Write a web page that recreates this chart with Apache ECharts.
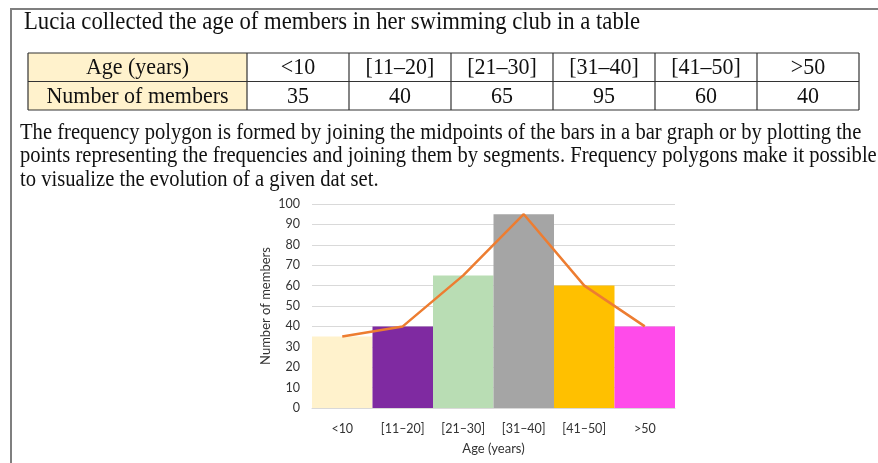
<!DOCTYPE html>
<html>
<head>
<meta charset="utf-8">
<script src="https://cdn.jsdelivr.net/npm/echarts@6/dist/echarts.min.js"></script>
<style>
  html, body { margin: 0; padding: 0; background: #fff; }
  #main { width: 878px; height: 463px; }
</style>
</head>
<body>
<div id="main"></div>
<script>
// 数据
const ageGroups = ['<10', '[11\u201320]', '[21\u201330]', '[31\u201340]', '[41\u201350]', '>50'];
const members = [35, 40, 65, 95, 60, 40];
const barColors = ['#FFF2CC', '#7F2AA1', '#B9DDB4', '#A5A5A5', '#FFC000', '#FF4BEA'];

const titleText = 'Lucia collected the age of members in her swimming club in a table';
const paragraph = [
  'The frequency polygon is formed by joining the midpoints of the bars in a bar graph or by plotting the',
  'points representing the frequencies and joining them by segments. Frequency polygons make it possible',
  'to visualize the evolution of a given dat set.'
];

const serif = '"Liberation Serif", "DejaVu Serif", serif';
const sans = 'Lato, "Noto Sans", sans-serif';

// 表格（由数据生成）
function buildTable() {
  const x0 = 28, firstW = 219, colW = 102, top = 53, rowH = 28.5;
  const items = [];
  const totalW = firstW + colW * ageGroups.length;
  // 第一列底色
  items.push({ type: 'rect', shape: { x: x0, y: top, width: firstW, height: rowH * 2 },
    style: { fill: '#FFF2CC' } });
  // 横线
  for (let r = 0; r <= 2; r++) {
    items.push({ type: 'line', shape: { x1: x0, y1: top + r * rowH, x2: x0 + totalW, y2: top + r * rowH },
      style: { stroke: '#333', lineWidth: 1.2 } });
  }
  // 竖线
  const xs = [x0, x0 + firstW];
  ageGroups.forEach((_, i) => xs.push(x0 + firstW + colW * (i + 1)));
  xs.forEach(x => items.push({ type: 'line', shape: { x1: x, y1: top, x2: x, y2: top + rowH * 2 },
    style: { stroke: '#333', lineWidth: 1.2 } }));
  const cell = (txt, cx, cy) => ({ type: 'text', x: cx, y: cy, scaleY: 1.08,
    style: { text: txt, font: '22px ' + serif, fill: '#111', align: 'center', verticalAlign: 'middle' } });
  items.push(cell('Age (years)', x0 + firstW / 2, top + rowH / 2 + 1));
  items.push(cell('Number of members', x0 + firstW / 2, top + rowH * 1.5 + 1));
  ageGroups.forEach((g, i) => {
    const cx = x0 + firstW + colW * i + colW / 2;
    items.push(cell(g, cx, top + rowH / 2 + 1));
    items.push(cell(String(members[i]), cx, top + rowH * 1.5 + 1));
  });
  return items;
}

const chart = echarts.init(document.getElementById('main'));

const graphics = [
  // 外框
  { type: 'polyline', shape: { points: [[11, 463], [11, 9], [878, 9]] },
    style: { stroke: '#7F7F7F', lineWidth: 2, fill: null } },
  { type: 'text', x: 24, y: 23, scaleY: 1.08,
    style: { text: titleText, font: '22.7px ' + serif, fill: '#111', verticalAlign: 'middle' } }
].concat(buildTable());

paragraph.forEach((line, i) => {
  graphics.push({ type: 'text', x: 20, y: 133 + i * 23.5, scaleY: 1.1,
    style: { text: line, font: '20.6px ' + serif, fill: '#111', verticalAlign: 'middle' } });
});

chart.setOption({
  animation: false,
  textStyle: { fontFamily: sans },
  grid: { left: 312, right: 203, top: 204, bottom: 55 },
  graphic: graphics,
  xAxis: {
    type: 'category',
    data: ageGroups,
    name: 'Age (years)',
    nameLocation: 'middle',
    nameGap: 34,
    nameTextStyle: { fontSize: 13, color: '#333', fontFamily: sans },
    axisLine: { lineStyle: { color: '#D9D9D9' } },
    axisTick: { show: false },
    axisLabel: { fontSize: 12.5, color: '#333', margin: 14, fontFamily: sans }
  },
  yAxis: {
    type: 'value',
    min: 0,
    max: 100,
    interval: 10,
    name: 'Number of members',
    nameLocation: 'middle',
    nameGap: 40,
    nameTextStyle: { fontSize: 13, color: '#333', fontFamily: sans },
    axisLine: { show: false },
    axisTick: { show: false },
    axisLabel: { fontSize: 12.5, color: '#333', margin: 12, fontFamily: sans },
    splitLine: { lineStyle: { color: '#D9D9D9', width: 1 } }
  },
  series: [
    {
      type: 'bar',
      barCategoryGap: 0,
      data: members.map((v, i) => ({ value: v, itemStyle: { color: barColors[i] } }))
    },
    {
      type: 'line',
      data: members,
      symbol: 'none',
      lineStyle: { color: '#ED7D31', width: 2.5 },
      z: 5
    }
  ]
});
</script>
</body>
</html>
